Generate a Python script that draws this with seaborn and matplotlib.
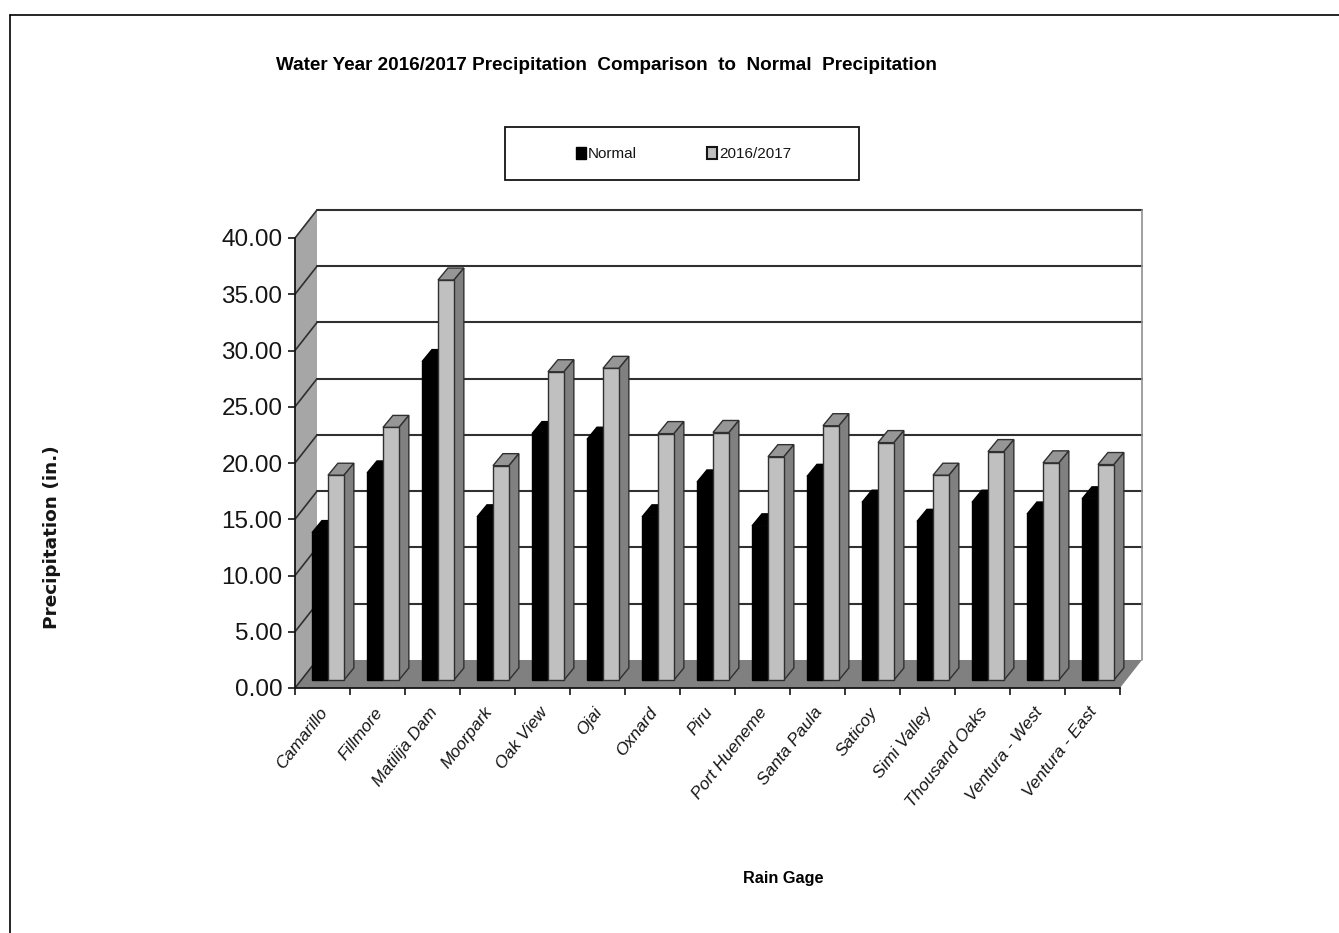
import numpy as np
import pandas as pd
import seaborn as sns
import matplotlib.pyplot as plt
from matplotlib.lines import Line2D
from matplotlib.patches import Patch, Polygon, Rectangle
from matplotlib.transforms import Affine2D

# Values
gages = ['Camarillo', 'Fillmore', 'Matilija Dam', 'Moorpark', 'Oak View', 'Ojai', 'Oxnard', 'Piru',
         'Port Hueneme', 'Santa Paula', 'Saticoy', 'Simi Valley', 'Thousand Oaks', 'Ventura - West',
         'Ventura - East']
normal = [13.1, 18.4, 28.3, 14.5, 21.9, 21.4, 14.5, 17.6, 13.7, 18.1, 15.8, 14.1, 15.8, 14.75, 16.1]
wy_2017 = [18.2, 22.45, 35.55, 19.05, 27.4, 27.7, 21.9, 22.0, 19.85, 22.6, 21.1, 18.2, 20.3, 19.3, 19.15]
y_ticks = [0, 5, 10, 15, 20, 25, 30, 35, 40]

# Fake 3D depth, in data units
WALL_DX, WALL_DY = 0.4, 2.49
BAR_X, BAR_Y = 0.1, 0.71
BAR_DX, BAR_DY = 0.18, 1.07
BAR_W = 0.58
INK = '#151515'

sns.set_theme(style='white')
plt.rcParams['font.family'] = ['Liberation Sans']

W, H = 1339, 933
fig = plt.figure(figsize=(W / 100, H / 100), dpi=100)
ax = fig.add_axes([295 / W, (H - 688) / H, 825 / W, 450 / H])
ax.patch.set_alpha(0)

df = pd.DataFrame({'gage': gages * 2,
                   'series': ['Normal'] * len(gages) + ['2016/2017'] * len(gages),
                   'value': normal + wy_2017})

sns.barplot(data=df, x='gage', y='value', hue='series', hue_order=['Normal', '2016/2017'],
            palette=['black', '#c0c0c0'], width=BAR_W, gap=0, dodge=True, legend=False,
            bottom=BAR_Y, saturation=1, zorder=5, ax=ax, edgecolor='#303030', linewidth=1)
for n, p in enumerate(ax.patches):
    p.set_x(p.get_x() + BAR_X)
    p.set_clip_on(False)
    if n < len(gages):
        p.set_edgecolor('black')

ax.set_xlim(-0.5, len(gages) - 0.5)
ax.set_ylim(0, 40)
left, right = ax.get_xlim()

# walls and floor
ax.add_patch(Polygon([(left, 0), (left + WALL_DX, WALL_DY), (left + WALL_DX, 40 + WALL_DY), (left, 40)],
                     fc='#a6a6a6', ec='none', zorder=1, clip_on=False))
ax.add_patch(Polygon([(left, 0), (right, 0), (right + WALL_DX, WALL_DY), (left + WALL_DX, WALL_DY)],
                     fc='#808080', ec='none', zorder=1, clip_on=False))
for v in y_ticks[1:]:
    ax.plot([left + WALL_DX, right + WALL_DX], [v + WALL_DY] * 2, color='#303030', lw=1.5, zorder=2, clip_on=False)
    ax.plot([left, left + WALL_DX], [v, v + WALL_DY], color='#303030', lw=1.2, zorder=2, clip_on=False)
ax.plot([left, left + WALL_DX], [0, WALL_DY], color='#303030', lw=1.2, zorder=2, clip_on=False)
ax.plot([right + WALL_DX] * 2, [WALL_DY, 40 + WALL_DY], color='#909090', lw=1.2, zorder=2, clip_on=False)

# bar tops and sides
bar_w = BAR_W / 2
for i in range(len(gages)):
    x0 = i - bar_w + BAR_X
    v = normal[i] + BAR_Y
    ax.add_patch(Polygon([(x0, v), (x0 + BAR_DX, v + BAR_DY), (x0 + bar_w + BAR_DX, v + BAR_DY), (x0 + bar_w, v)],
                         fc='black', ec='black', lw=1, zorder=4, clip_on=False))
    x1 = i + BAR_X
    xr = x1 + bar_w
    v = wy_2017[i] + BAR_Y
    ax.add_patch(Polygon([(x1, v), (x1 + BAR_DX, v + BAR_DY), (xr + BAR_DX, v + BAR_DY), (xr, v)],
                         fc='#969696', ec='#303030', lw=1, zorder=4, clip_on=False))
    ax.add_patch(Polygon([(xr, BAR_Y), (xr + BAR_DX, BAR_Y + BAR_DY), (xr + BAR_DX, v + BAR_DY), (xr, v)],
                         fc='#808080', ec='#303030', lw=1, zorder=4, clip_on=False))

# axes
sns.despine(ax=ax, top=True, right=True)
for s in ['left', 'bottom']:
    ax.spines[s].set_color(INK)
    ax.spines[s].set_linewidth(1.3)
    ax.spines[s].set_zorder(6)
ax.set_yticks(y_ticks)
ax.set_yticklabels([f'{v:.2f}' for v in y_ticks], fontsize=17.5, color=INK)
ax.tick_params(axis='y', which='major', left=True, length=5, width=1.2, color=INK, pad=4)
ax.set_xticks(range(len(gages)))
ax.set_xticklabels(gages, rotation=52, ha='right', va='top', rotation_mode='anchor', fontsize=12.4,
                   style='italic', color=INK)
ax.set_xticks(np.arange(left, right + 1), minor=True)
ax.tick_params(axis='x', which='major', bottom=False, length=0, pad=12)
ax.tick_params(axis='x', which='minor', bottom=True, length=5, width=1.2, color=INK)
for label in ax.get_xticklabels():
    label.set_transform(label.get_transform() + Affine2D().translate(-4, 0))
ax.set_xlabel('')
ax.set_ylabel('')

fig.text(606 / W, 1 - 65 / H, 'Water Year 2016/2017 Precipitation  Comparison  to  Normal  Precipitation',
         ha='center', va='center', fontsize=13.6, fontweight='bold', color='black')
fig.text(783 / W, 1 - 879 / H, 'Rain Gage', ha='center', va='center', fontsize=11.7, fontweight='bold', color='black')
fig.text(52 / W, 1 - 537.5 / H, 'Precipitation (in.)', rotation=90, ha='center', va='center', fontsize=13.3,
         fontweight='bold', family='DejaVu Sans', color=INK)

# legend
fig.add_artist(Rectangle((505 / W, 1 - 180 / H), 354 / W, 53 / H, transform=fig.transFigure,
                         fc='white', ec=INK, lw=1.3))
handles = [Patch(fc='black', ec='black', label='Normal'), Patch(fc='#c0c0c0', ec=INK, lw=1.5, label='2016/2017')]
fig.legend(handles=handles, ncol=2, loc='center', bbox_to_anchor=(683.5 / W, 1 - 154 / H), frameon=False,
           fontsize=11, handlelength=0.65, handleheight=0.8, handletextpad=0.15, columnspacing=4.6, labelcolor=INK)

# outer frame
fig.add_artist(Line2D([10 / W, 1], [1 - 14.5 / H, 1 - 14.5 / H], color='black', lw=1.2))
fig.add_artist(Line2D([10 / W, 10 / W], [0, 1 - 14.5 / H], color='black', lw=1.2))

fig.savefig('out.png', dpi=100, facecolor='white')
